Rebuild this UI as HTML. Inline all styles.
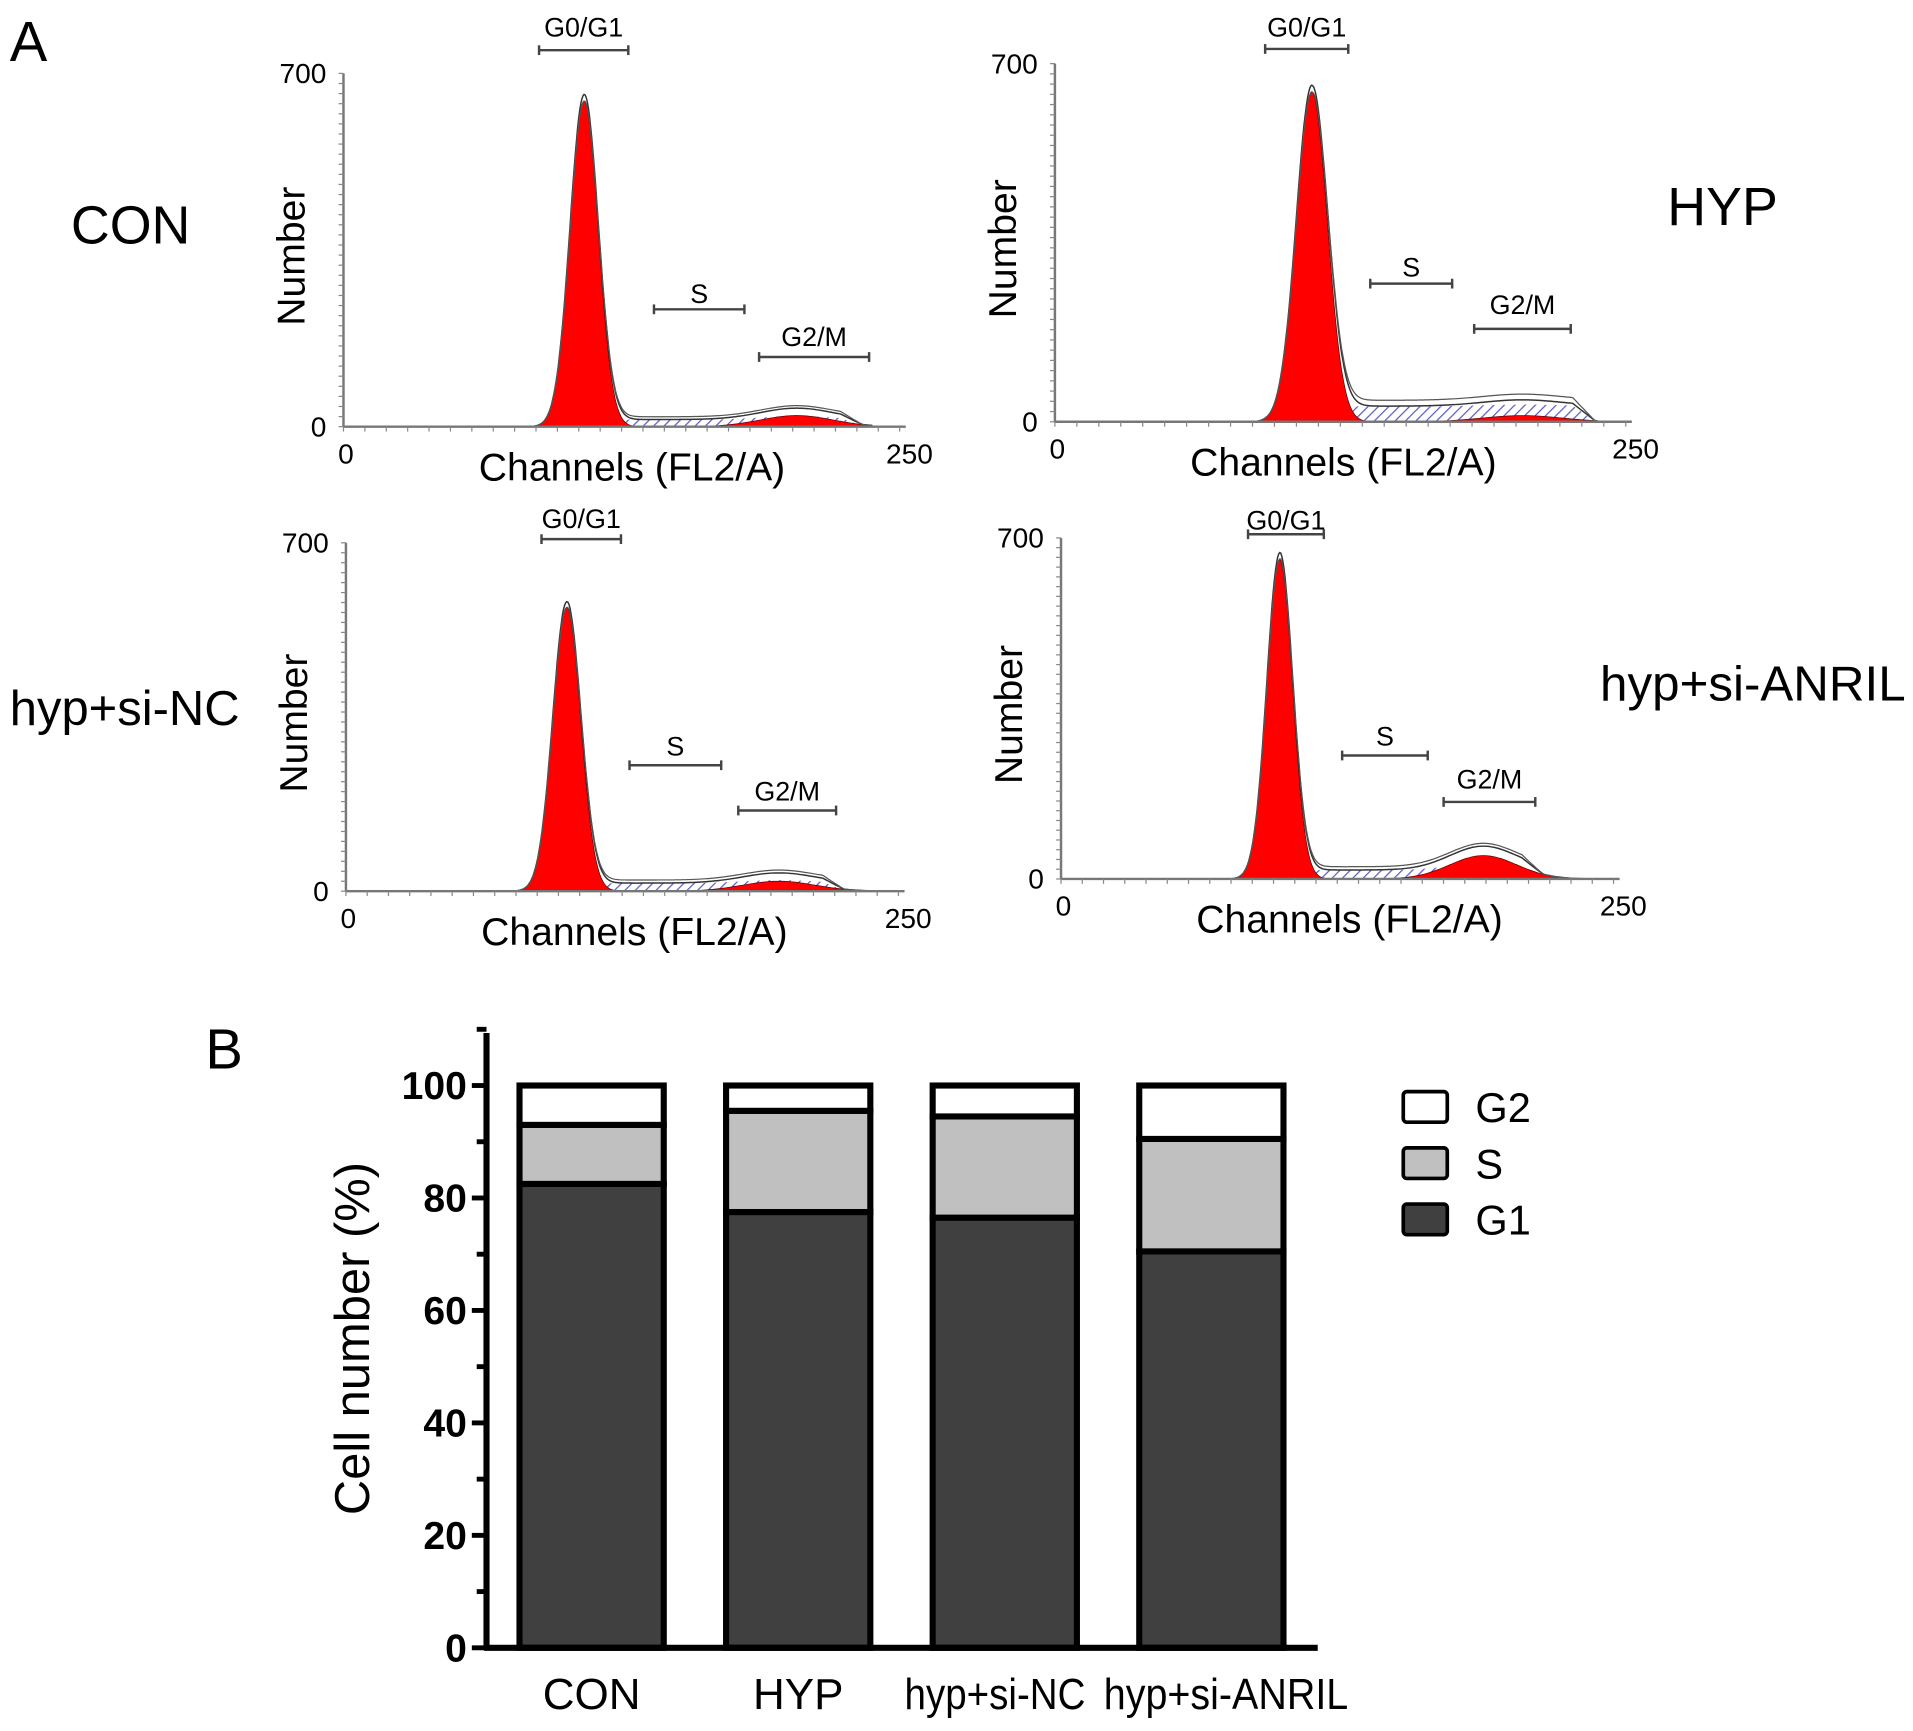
<!DOCTYPE html>
<html><head><meta charset="utf-8"><style>
html,body{margin:0;padding:0;background:#fff}
svg{display:block}
text{font-family:"Liberation Sans",sans-serif}
</style></head><body>
<svg id="fig" width="1913" height="1731" viewBox="0 0 1565 1416" xmlns="http://www.w3.org/2000/svg">
<defs><pattern id="hatch" width="6" height="6" patternUnits="userSpaceOnUse" patternTransform="rotate(45)"><rect width="6" height="6" fill="#fff"/><line x1="0" y1="0" x2="0" y2="6" stroke="#5a5ac8" stroke-width="2"/></pattern></defs>
<text x="8" y="50" font-size="46">A</text>
<text x="168" y="874" font-size="46">B</text>
<text x="58" y="199" font-size="44">CON</text>
<text x="1364" y="184" font-size="44">HYP</text>
<text x="8" y="593" font-size="40" textLength="188" lengthAdjust="spacingAndGlyphs">hyp+si-NC</text>
<text x="1309" y="573" font-size="40" textLength="250" lengthAdjust="spacingAndGlyphs">hyp+si-ANRIL</text>
<g id="hists"></g>
<g id="bars"></g>
</svg>
<script>
// Histogram data (channels 0-250, counts 0-700)
const histG1Channel = [111.5, 116, 103, 102];
const histG1Height = [645, 645, 570, 655];
const histG1Sd = [6.5, 7, 6.5, 6];
const histG2Channel = [210, 211, 202, 197];
const histG2Height = [22, 12, 20, 48];
const histSLevel = [14, 30, 16, 18];
// layout per panel (pixels)
const P = [
 {x0:281,top:60,y0:349,w:455,gates:[[441,514,41,22,'G0/G1'],[535,609,253,240,'S'],[621,711,292,275,'G2/M']]},
 {x0:863,top:52,y0:345,w:467,gates:[[1035,1103,40,22,'G0/G1'],[1121,1188,232,218,'S'],[1206,1285,269,249,'G2/M']]},
 {x0:283,top:444,y0:729,w:452,gates:[[443,508,441,424,'G0/G1'],[515,590,626,610,'S'],[604,684,663,647,'G2/M']]},
 {x0:868,top:440,y0:719,w:452,gates:[[1021,1083,437,425,'G0/G1'],[1098,1168,618,602,'S'],[1181,1256,656,637,'G2/M']]}
];
const NS='http://www.w3.org/2000/svg';
function mk(tag,attrs,parent,txt){const e=document.createElementNS(NS,tag);for(const k in attrs)e.setAttribute(k,attrs[k]);if(txt!==undefined)e.textContent=txt;parent.appendChild(e);return e;}
const hg=document.getElementById('hists');
P.forEach((p,i)=>{
 const g=mk('g',{},hg);
 
 
 const xs=c=>p.x0+c*p.w/250*0.97;
 const ys=v=>p.y0-v*(p.y0-p.top)/700;
 const g1=c=>histG1Height[i]*Math.exp(-0.5*((c-histG1Channel[i])/histG1Sd[i])**2);
 const g2sd=histG1Sd[i]*2.6;
 const g2=c=>histG2Height[i]*Math.exp(-0.5*((c-histG2Channel[i])/g2sd)**2);
 const sLo=histG1Channel[i]+histG1Sd[i]*1.5;
 const sv=c=>{if(c<sLo-10||c>histG2Channel[i]+g2sd*1.8)return 0;let a=Math.min(1,(c-(sLo-10))/10);let b=Math.min(1,(histG2Channel[i]+g2sd*1.8-c)/10);return histSLevel[i]*Math.max(0,Math.min(a,b));};
 let sP='M',rP='M',oP='M',o2P='M';
 for(let c=70;c<=245;c+=0.5){
  const tot=g1(c)+g2(c)+sv(c);
  sP+=xs(c).toFixed(1)+','+ys(sv(c)+g2(c)*0.3).toFixed(1)+' L';
  rP+=xs(c).toFixed(1)+','+ys(Math.max(g1(c),g2(c))).toFixed(1)+' L';
  oP+=xs(c).toFixed(1)+','+ys(tot*1.02).toFixed(1)+' L';
  o2P+=xs(c).toFixed(1)+','+ys(tot+(c>histG1Channel[i]?sv(c)*0.4:0)).toFixed(1)+' L';
 }
 const base=' '+xs(245)+','+p.y0+' L'+xs(70)+','+p.y0+'Z';
 const sa=mk('path',{d:sP.slice(0,-2)+base,fill:'url(#hatch)',stroke:'none'},g);
 
 
 const ra=mk('path',{d:rP.slice(0,-2)+base,fill:'#f00',stroke:'#600','stroke-width':0.6},g);
 
 
 mk('path',{d:oP.slice(0,-2),fill:'none',stroke:'#333','stroke-width':1.2},g);
 mk('path',{d:o2P.slice(0,-2),fill:'none',stroke:'#555','stroke-width':1},g);
 mk('line',{x1:p.x0,y1:p.top,x2:p.x0,y2:p.y0,stroke:'#777','stroke-width':2},g);
 mk('line',{x1:p.x0,y1:p.y0,x2:p.x0+p.w+5,y2:p.y0,stroke:'#777','stroke-width':2},g);
 for(let k=0;k<=35;k++){const y=p.y0-k*(p.y0-p.top)/35;mk('line',{x1:p.x0-4,y1:y,x2:p.x0,y2:y,stroke:'#888','stroke-width':1},g);}
 for(let k=0;k<=26;k++){const x=p.x0+k*p.w/26;mk('line',{x1:x,y1:p.y0,x2:x,y2:p.y0+4,stroke:'#888','stroke-width':1},g);}
 mk('text',{x:p.x0-14,y:p.top+8,'font-size':23,'text-anchor':'end'},g,'700');
 mk('text',{x:p.x0-14,y:p.y0+8,'font-size':23,'text-anchor':'end'},g,'0');
 mk('text',{x:p.x0+2,y:p.y0+30,'font-size':23,'text-anchor':'middle'},g,'0');
 mk('text',{x:p.x0+p.w+8,y:p.y0+30,'font-size':23,'text-anchor':'middle'},g,'250');
 const xl=mk('text',{x:p.x0+236,y:p.y0+44,'font-size':32,'text-anchor':'middle'},g,'Channels (FL2/A)');
 
 
 const cy=(p.top+p.y0)/2+5;
 const yl=mk('text',{x:p.x0-32,y:cy,'font-size':32,'text-anchor':'middle',transform:'rotate(-90 '+(p.x0-32)+' '+cy+')'},g,'Number');
 
 
 p.gates.forEach(gt=>{
  const gg=mk('g',{},g);
  
  
  mk('line',{x1:gt[0],y1:gt[2],x2:gt[1],y2:gt[2],stroke:'#444','stroke-width':2},gg);
  mk('line',{x1:gt[0],y1:gt[2]-4,x2:gt[0],y2:gt[2]+4,stroke:'#444','stroke-width':2},gg);
  mk('line',{x1:gt[1],y1:gt[2]-4,x2:gt[1],y2:gt[2]+4,stroke:'#444','stroke-width':2},gg);
  mk('text',{x:(gt[0]+gt[1])/2,y:gt[3]+8,'font-size':22,'text-anchor':'middle'},gg,gt[4]);
 });
});

// Bar chart data
const barCategories = ['CON','HYP','hyp+si-NC','hyp+si-ANRIL'];
const g1Values = [82.5, 77.5, 76.5, 70.5];
const sValues = [10.5, 18, 18, 20];
const g2Values = [7, 4.5, 5.5, 9.5];
const yTicks = [0,20,40,60,80,100];
const labelWidths = [0,0,148,200];
const labelShift = [0,0,-8,12];
const bg=document.getElementById('bars');
const ax=398, yb=1348, pxu=4.6;
const yv=v=>yb-v*pxu;
const barX=i=>425+i*169;
const bw=118;
const colors=['#404040','#c0c0c0','#ffffff'];
const names=['g1','s','g2'];
barCategories.forEach((c,i)=>{
 const vals=[g1Values[i],sValues[i],g2Values[i]];
 let acc=0;
 vals.forEach((v,k)=>{
  const r=mk('rect',{x:barX(i),y:yv(acc+v),width:bw,height:v*pxu,fill:colors[k],stroke:'#000','stroke-width':5},bg);
  
  
  acc+=v;
 });
 const t=mk('text',{x:barX(i)+bw/2+labelShift[i],y:1398,'font-size':36,'text-anchor':'middle'},bg,c);
 if(labelWidths[i]){t.setAttribute('textLength',labelWidths[i]);t.setAttribute('lengthAdjust','spacingAndGlyphs');}
 
 
});
mk('line',{x1:ax,y1:845,x2:ax,y2:yb+2,stroke:'#000','stroke-width':5},bg);
mk('line',{x1:ax-2,y1:yb,x2:1078,y2:yb,stroke:'#000','stroke-width':5},bg);
for(let v=0;v<=110;v+=10){mk('line',{x1:ax-(v%20===0?12:8),y1:yv(v),x2:ax,y2:yv(v),stroke:'#000','stroke-width':4},bg);}
yTicks.forEach(v=>{
 const t=mk('text',{x:382,y:yv(v)+11,'font-size':32,'font-weight':'bold','text-anchor':'end'},bg,String(v));
 
 
});
const yt=mk('text',{x:302,y:1095,'font-size':40,'text-anchor':'middle',transform:'rotate(-90 302 1095)'},bg,'Cell number (%)');


const legendLabels=['G2','S','G1'];
const legendColors=['#ffffff','#c0c0c0','#404040'];
legendLabels.forEach((l,k)=>{
 const y=893+k*46;
 const lg=mk('g',{},bg);
 
 
 mk('rect',{x:1148,y:y,width:36,height:25,rx:3,fill:legendColors[k],stroke:'#000','stroke-width':3},lg);
 mk('text',{x:1207,y:y+25,'font-size':34},lg,l);
});
</script>
</body></html>
